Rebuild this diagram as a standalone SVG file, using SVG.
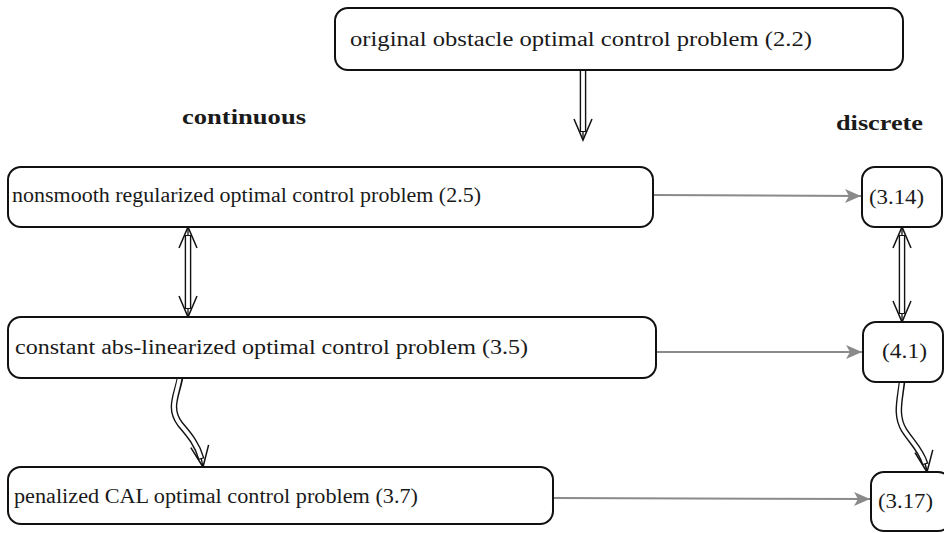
<svg xmlns="http://www.w3.org/2000/svg" width="944" height="533" viewBox="0 0 944 533">
<style>
.box{fill:#fff;stroke:#111;stroke-width:2}
.t{font-family:"Liberation Serif","Times New Roman",serif;font-size:20.5px;fill:#1a1a1a}
.h{font-family:"Liberation Serif","Times New Roman",serif;font-size:20px;font-weight:bold;fill:#1a1a1a}
.gray{fill:none;stroke:#8a8a8a;stroke-width:2}
.core{fill:none;stroke:#111;stroke-width:1.3}
.outer{fill:none;stroke:#111;stroke-width:6.6}
.inner{fill:none;stroke:#fff;stroke-width:3.8}
</style>
<defs>
<marker id="gh" markerUnits="userSpaceOnUse" viewBox="-18 -9 20 18" markerWidth="20" markerHeight="18" refX="0" refY="0" orient="auto">
<path d="M-16,-7 L0,0 L-16,7 L-12,0 z" fill="#8a8a8a"/>
</marker>
<marker id="vh" markerUnits="userSpaceOnUse" viewBox="-24 -11 26 22" markerWidth="26" markerHeight="22" refX="0" refY="0" orient="auto-start-reverse">
<path d="M-21,-9 L0,0 L-21,9" fill="none" stroke="#111" stroke-width="1.5"/>
</marker>
</defs>

<g id="connectors">
<line class="gray" x1="653" y1="195" x2="861" y2="196" marker-end="url(#gh)"/>
<line class="gray" x1="656" y1="352" x2="862" y2="352" marker-end="url(#gh)"/>
<line class="gray" x1="553" y1="498" x2="870" y2="499" marker-end="url(#gh)"/>

<path class="core" d="M583,70 L583,140" marker-end="url(#vh)"/>
<path class="outer" d="M583,70 L583,132"/>
<path class="inner" d="M583,68 L583,131"/>

<path class="core" d="M188,227 L188,317" marker-start="url(#vh)" marker-end="url(#vh)"/>
<path class="outer" d="M188,235 L188,309"/>
<path class="inner" d="M188,236 L188,308"/>

<path class="core" d="M902,227 L902,322" marker-start="url(#vh)" marker-end="url(#vh)"/>
<path class="outer" d="M902,235 L902,314"/>
<path class="inner" d="M902,236 L902,313"/>

<path class="core" d="M180,378 C177,395 168,408 180,424 C192,438 200,448 203,467" marker-end="url(#vh)"/>
<path class="outer" pathLength="100" stroke-dasharray="92 100" d="M180,378 C177,395 168,408 180,424 C192,438 200,448 203,467"/>
<path class="inner" pathLength="100" stroke-dasharray="91 100" d="M180,376 C177,395 168,408 180,424 C192,438 200,448 203,467"/>

<path class="core" d="M902,382 C900,400 895,415 904,430 C913,444 924,452 927,472" marker-end="url(#vh)"/>
<path class="outer" pathLength="100" stroke-dasharray="92 100" d="M902,382 C900,400 895,415 904,430 C913,444 924,452 927,472"/>
<path class="inner" pathLength="100" stroke-dasharray="91 100" d="M902,380 C900,400 895,415 904,430 C913,444 924,452 927,472"/>
</g>

<g id="n-top">
<rect class="box" x="335" y="8" width="568" height="62" rx="13"/>
<text class="t" x="350" y="46" textLength="462" lengthAdjust="spacingAndGlyphs">original obstacle optimal control problem (2.2)</text>
</g>

<g id="label-continuous">
<text class="h" x="182" y="124" textLength="124" lengthAdjust="spacingAndGlyphs">continuous</text>
</g>
<g id="label-discrete">
<text class="h" x="836" y="130" textLength="87" lengthAdjust="spacingAndGlyphs">discrete</text>
</g>

<g id="n-25">
<rect class="box" x="8" y="167" width="645" height="60" rx="13"/>
<text class="t" x="12" y="202" textLength="469" lengthAdjust="spacingAndGlyphs">nonsmooth regularized optimal control problem (2.5)</text>
</g>

<g id="n-314">
<rect class="box" x="862" y="167" width="80" height="60" rx="13"/>
<text class="t" x="869" y="204" textLength="55" lengthAdjust="spacingAndGlyphs">(3.14)</text>
</g>

<g id="n-35">
<rect class="box" x="8" y="317" width="648" height="61" rx="13"/>
<text class="t" x="15" y="354" textLength="513" lengthAdjust="spacingAndGlyphs">constant abs-linearized optimal control problem (3.5)</text>
</g>

<g id="n-41">
<rect class="box" x="863" y="322" width="80" height="60" rx="13"/>
<text class="t" x="882" y="358" textLength="45" lengthAdjust="spacingAndGlyphs">(4.1)</text>
</g>

<g id="n-37">
<rect class="box" x="8" y="467" width="545" height="57" rx="13"/>
<text class="t" x="14" y="503" textLength="404" lengthAdjust="spacingAndGlyphs">penalized CAL optimal control problem (3.7)</text>
</g>

<g id="n-317">
<rect class="box" x="871" y="472" width="80" height="59" rx="13"/>
<text class="t" x="878" y="508" textLength="55" lengthAdjust="spacingAndGlyphs">(3.17)</text>
</g>
</svg>
